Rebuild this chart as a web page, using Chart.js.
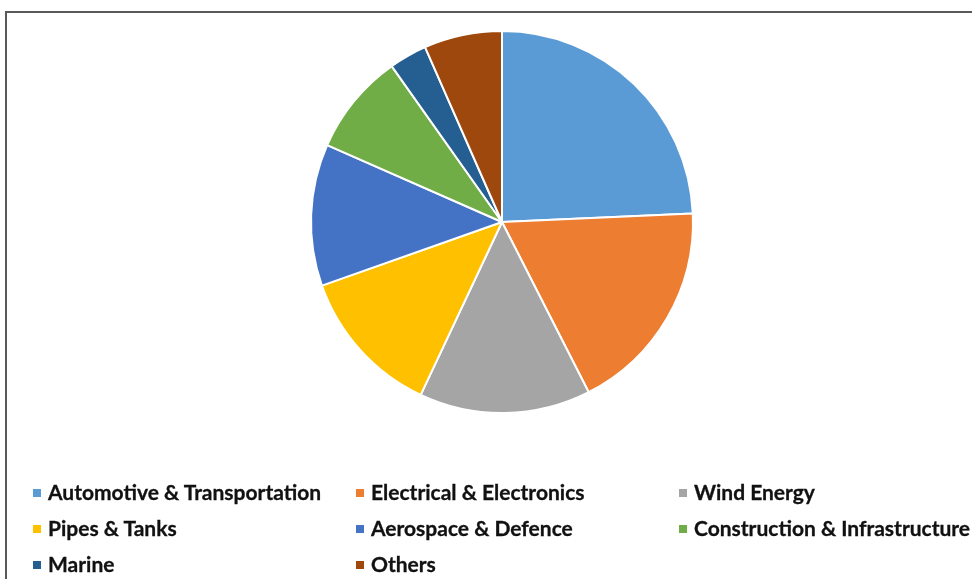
<!DOCTYPE html>
<html>
<head>
<meta charset="utf-8">
<script src="https://cdn.jsdelivr.net/npm/chart.js@4"></script>
<style>
  html, body { margin: 0; padding: 0; background: #fff; }
  body { width: 972px; height: 579px; position: relative; overflow: hidden; }
  .frame { position: absolute; left: 5px; top: 11px; right: -10px; bottom: -10px;
           border-top: 2px solid #595959; border-left: 2px solid #595959; }
  #chartWrap { position: absolute; left: 0; top: 0; width: 972px; height: 579px; }
  .legend { position: absolute; left: 0; top: 0; width: 972px; height: 579px;
            font-family: Lato, "Open Sans", sans-serif; font-weight: 700; font-size: 21px; color: #111; }
  .legend .item { position: absolute; white-space: nowrap; line-height: 22px; }
  .legend .box { position: absolute; width: 8px; height: 8px; top: 8px; }
  .legend .txt { position: absolute; left: 15px; top: 0; -webkit-text-stroke: 0.3px #111; }
</style>
</head>
<body>
<div class="frame"></div>
<div id="chartWrap"><canvas id="pieChart" width="972" height="579"></canvas></div>
<div class="legend" id="legend"></div>
<script>
const categories = [
    'Automotive & Transportation',
    'Electrical & Electronics',
    'Wind Energy',
    'Pipes & Tanks',
    'Aerospace & Defence',
    'Construction & Infrastructure',
    'Marine',
    'Others'
];
const shares = [24.3, 18.2, 14.5, 12.6, 12.0, 8.6, 3.2, 6.6];
const sliceColors = ['#5B9BD5', '#ED7D31', '#A5A5A5', '#FFC000', '#4472C4', '#70AD47', '#255E91', '#9E480E'];

// legend grid: 3 columns, 3 rows (column x, row y)
const legendCols = [33, 356, 679];
const legendRows = [481, 517, 553];

const ctx = document.getElementById('pieChart').getContext('2d');
const chart = new Chart(ctx, {
    type: 'pie',
    data: {
        labels: categories,
        datasets: [{
            data: shares,
            backgroundColor: sliceColors,
            borderColor: '#ffffff',
            borderWidth: 2
        }]
    },
    options: {
        responsive: false,
        animation: false,
        layout: { padding: { top: 30, bottom: 165, left: 310, right: 278 } },
        plugins: {
            legend: { display: false },
            tooltip: { enabled: false }
        }
    }
});

// Build legend from chart's own label items
const legendEl = document.getElementById('legend');
const items = chart.options.plugins.legend.labels.generateLabels(chart);
items.forEach((it, i) => {
    const div = document.createElement('div');
    div.className = 'item';
    div.style.left = legendCols[i % 3] + 'px';
    div.style.top = legendRows[Math.floor(i / 3)] + 'px';
    const box = document.createElement('span');
    box.className = 'box';
    box.style.background = it.fillStyle;
    const txt = document.createElement('span');
    txt.className = 'txt';
    txt.textContent = it.text;
    div.appendChild(box);
    div.appendChild(txt);
    legendEl.appendChild(div);
});
</script>
</body>
</html>
